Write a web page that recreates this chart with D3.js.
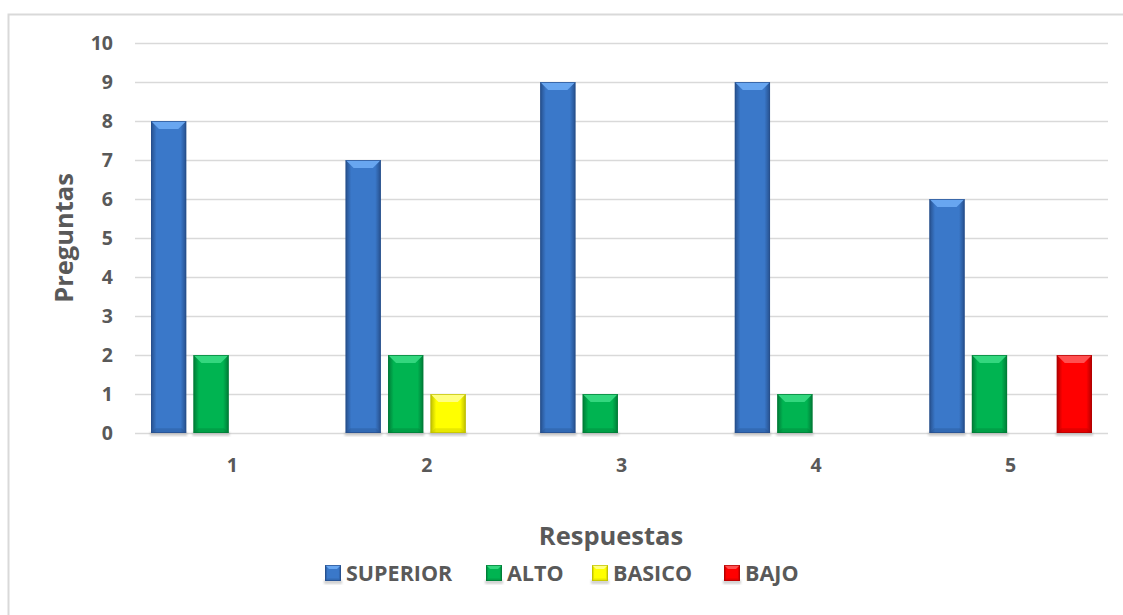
<!DOCTYPE html>
<html>
<head>
<meta charset="utf-8">
<script src="https://cdn.jsdelivr.net/npm/d3@7"></script>
<style>
  html, body { margin: 0; padding: 0; background: #fff; }
  svg { display: block; font-family: "Open Sans", "Liberation Sans", sans-serif; }
</style>
</head>
<body>
<svg id="chart" width="1123" height="615"></svg>
<script>
// Categories (question numbers) and series
const categories = ["1", "2", "3", "4", "5"];
const seriesNames = ["SUPERIOR", "ALTO", "BASICO", "BAJO"];
const superiorValues = [8, 7, 9, 9, 6];
const altoValues = [2, 2, 1, 1, 2];
const basicoValues = [0, 1, 0, 0, 0];
const bajoValues = [0, 0, 0, 0, 2];
const yTicks = [0, 1, 2, 3, 4, 5, 6, 7, 8, 9, 10];

const seriesValues = [superiorValues, altoValues, basicoValues, bajoValues];

// Palette per series: body, light (top bevel), dark (sides/bottom)
const palette = {
  SUPERIOR: { body: "#3a78c9", light: "#68a6f0", dark: "#264f8c" },
  ALTO:     { body: "#00b451", light: "#33d77e", dark: "#007a36" },
  BASICO:   { body: "#ffff00", light: "#ffff80", dark: "#bdbd00" },
  BAJO:     { body: "#ff0000", light: "#ff5050", dark: "#b00000" }
};

const svg = d3.select("#chart");
const margin = { left: 135, right: 1108, top: 43, bottom: 433 };

// Outer chart frame (top and left edges visible)
svg.append("path")
  .attr("d", "M8.5,615 L8.5,14.5 L1123,14.5")
  .attr("fill", "none").attr("stroke", "#d9d9d9").attr("stroke-width", 2);

const x = d3.scaleBand().domain(categories).range([margin.left, margin.right]).padding(0);
const xs = d3.scaleBand().domain(seriesNames).range([16, x.bandwidth() - 16]).paddingInner(0.17);
const y = d3.scaleLinear().domain([0, 10]).range([margin.bottom, margin.top]);

// Gradients for the bevelled bars
const defs = svg.append("defs");
seriesNames.forEach(name => {
  const c = palette[name];
  const g = defs.append("linearGradient").attr("id", "g-" + name)
    .attr("x1", "0%").attr("x2", "100%").attr("y1", "0%").attr("y2", "0%");
  g.append("stop").attr("offset", "0%").attr("stop-color", c.dark);
  g.append("stop").attr("offset", "16%").attr("stop-color", c.body);
  g.append("stop").attr("offset", "84%").attr("stop-color", c.body);
  g.append("stop").attr("offset", "100%").attr("stop-color", c.dark);
});
const blur = defs.append("filter").attr("id", "shadow").attr("x", "-20%").attr("y", "-20%").attr("width", "140%").attr("height", "140%");
blur.append("feGaussianBlur").attr("stdDeviation", 1.2);

// Horizontal gridlines
svg.append("g").selectAll("line").data(yTicks).join("line")
  .attr("x1", margin.left).attr("x2", margin.right)
  .attr("y1", d => Math.round(y(d)) + 0.5).attr("y2", d => Math.round(y(d)) + 0.5)
  .attr("stroke", "#d9d9d9").attr("stroke-width", 1.5);

// Y axis tick labels
const yAxis = d3.axisLeft(y).tickValues(yTicks).tickSize(0).tickPadding(0);
const yg = svg.append("g").attr("transform", `translate(${margin.left - 22},0)`).call(yAxis);
yg.select(".domain").remove();
yg.selectAll("text")
  .attr("fill", "#595959").attr("font-size", 19.5).attr("font-weight", "bold")
  .attr("font-family", "'Open Sans', sans-serif").attr("dy", "0.35em");

// X axis labels
const xAxis = d3.axisBottom(x).tickSize(0).tickPadding(0);
const xg = svg.append("g").attr("transform", `translate(0,${margin.bottom + 32})`).call(xAxis);
xg.select(".domain").remove();
xg.selectAll("text")
  .attr("fill", "#595959").attr("font-size", 19.5).attr("font-weight", "bold")
  .attr("font-family", "'Open Sans', sans-serif").attr("dy", "0.35em").attr("y", 0);

// Bars
const barData = [];
categories.forEach((cat, i) => {
  seriesNames.forEach((name, j) => {
    const v = seriesValues[j][i];
    if (v > 0) barData.push({ cat, name, v });
  });
});

function drawBevelBar(g, bx, by, w, h, name, bevel) {
  const c = palette[name];
  const b = Math.min(bevel, h / 3, w / 4);
  // soft shadow below the bar
  g.append("rect").attr("x", bx - 1).attr("y", by + h - 1).attr("width", w + 2).attr("height", 4)
    .attr("fill", "#9a9a9a").attr("opacity", 0.45).attr("filter", "url(#shadow)");
  g.append("rect").attr("x", bx).attr("y", by).attr("width", w).attr("height", h)
    .attr("fill", `url(#g-${name})`);
  // top bevel
  g.append("polygon")
    .attr("points", [[bx, by], [bx + w, by], [bx + w - b, by + b], [bx + b, by + b]].map(p => p.join(",")).join(" "))
    .attr("fill", c.light);
  // bottom bevel
  g.append("polygon")
    .attr("points", [[bx, by + h], [bx + w, by + h], [bx + w - b * 0.6, by + h - b * 0.6], [bx + b * 0.6, by + h - b * 0.6]].map(p => p.join(",")).join(" "))
    .attr("fill", c.dark).attr("opacity", 0.35);
  g.append("rect").attr("x", bx + 0.5).attr("y", by + 0.5).attr("width", w - 1).attr("height", h - 1)
    .attr("fill", "none").attr("stroke", c.dark).attr("stroke-width", 1).attr("opacity", 0.7);
}

const barsG = svg.append("g");
barData.forEach(d => {
  const bx = x(d.cat) + xs(d.name);
  const by = y(d.v);
  const h = y(0) - y(d.v);
  drawBevelBar(barsG.append("g"), bx, by, xs.bandwidth(), h, d.name, 8);
});

// Axis titles
svg.append("text")
  .attr("transform", "translate(73,238) rotate(-90)")
  .attr("text-anchor", "middle")
  .attr("fill", "#595959").attr("font-size", 25.5).attr("font-weight", "bold")
  .text("Preguntas");

svg.append("text")
  .attr("x", 611).attr("y", 545)
  .attr("text-anchor", "middle")
  .attr("fill", "#595959").attr("font-size", 25.5).attr("font-weight", "bold")
  .text("Respuestas");

// Legend
const legendX = [325, 486, 592, 724];
const legend = svg.append("g");
seriesNames.forEach((name, i) => {
  const lg = legend.append("g").attr("transform", `translate(${legendX[i]},565)`);
  drawBevelBar(lg, 0, 0, 16, 16, name, 4);
  lg.append("text").attr("x", 21).attr("y", 8).attr("dy", "0.36em")
    .attr("fill", "#595959").attr("font-size", 21.5).attr("font-weight", "bold")
    .text(name);
});
</script>
</body>
</html>
